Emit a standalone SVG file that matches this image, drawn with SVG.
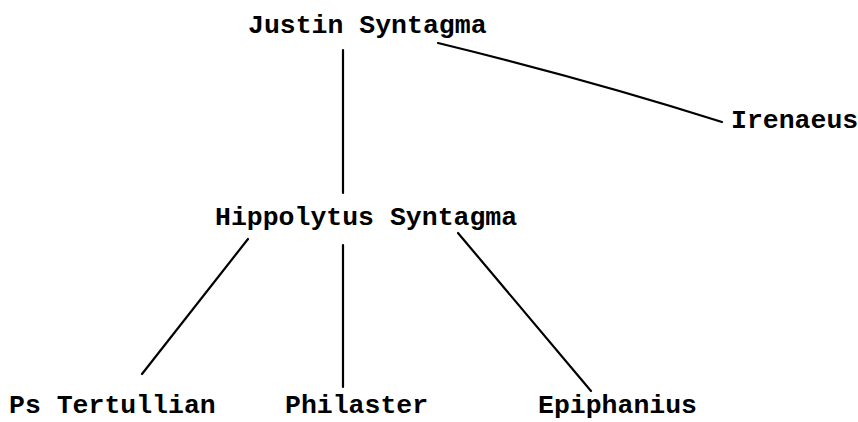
<svg xmlns="http://www.w3.org/2000/svg" width="858" height="422" viewBox="0 0 858 422">
<style>
.t{font-family:"Liberation Mono","Courier New",monospace;font-weight:bold;font-size:26.5px;fill:#000}
.c line,.c path{stroke:#000;stroke-width:2.2;stroke-linecap:round;stroke-linejoin:round;fill:none}
</style>
<rect width="858" height="422" fill="#fff"/>
<g id="connectors" class="c">
<line x1="343" y1="50" x2="343" y2="193"/>
<path d="M438,43 Q590,80 722,122"/>
<line x1="248" y1="239" x2="142" y2="374"/>
<line x1="343" y1="245" x2="343" y2="387"/>
<line x1="458" y1="233" x2="591" y2="391"/>
</g>
<g id="justin"><text class="t" x="248" y="33">Justin Syntagma</text></g>
<g id="irenaeus"><text class="t" x="731" y="128">Irenaeus</text></g>
<g id="hippolytus"><text class="t" x="215" y="225">Hippolytus Syntagma</text></g>
<g id="pstertullian"><text class="t" x="9" y="413">Ps Tertullian</text></g>
<g id="philaster"><text class="t" x="285" y="413">Philaster</text></g>
<g id="epiphanius"><text class="t" x="538" y="413">Epiphanius</text></g>
</svg>
